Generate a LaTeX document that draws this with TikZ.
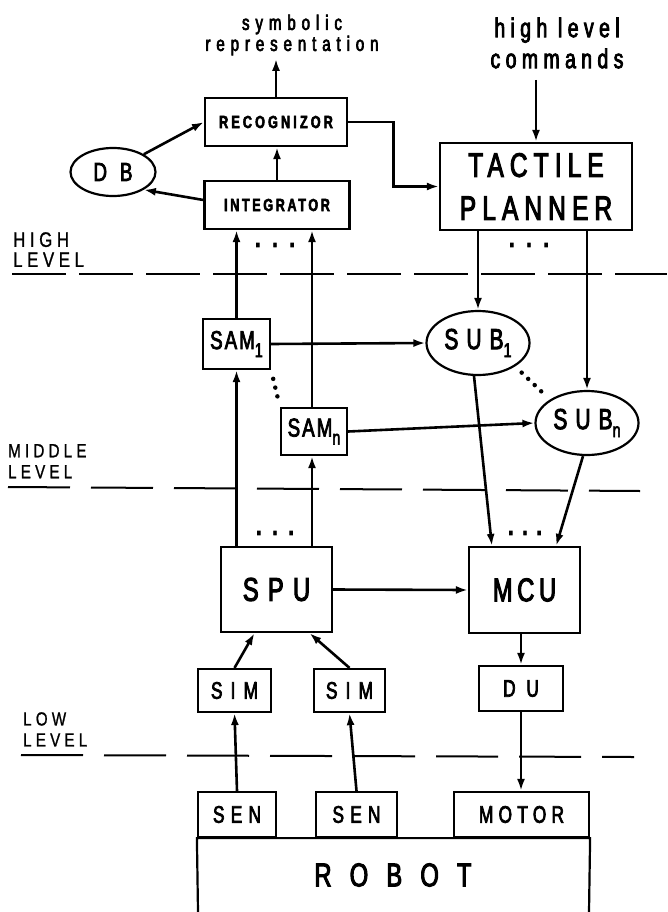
\documentclass[tikz,border=0pt]{standalone}
\usepackage{fontspec}
\setmainfont[FakeStretch=0.72, FakeBold=3]{Liberation Sans}
\newfontfamily\lvlfont[FakeStretch=0.8, FakeBold=1]{Liberation Sans}
\usetikzlibrary{arrows.meta, positioning, calc, shapes.geometric}
% size, line skip, letter spacing
\newcommand{\setfs}[3]{\fontsize{#1}{#2}\selectfont\addfontfeature{LetterSpace=#3}}
\newcommand{\lowsub}[1]{\raisebox{-8pt}{\fontsize{20}{20}\selectfont #1}}
\tikzset{
  box/.style={draw, rectangle, line width=2.2pt, inner sep=0pt},
  oval/.style={draw, ellipse, line width=2.2pt, inner sep=0pt},
  flow/.style={-{Latex[length=12pt,width=8pt]}, line width=2.6pt},
  dotline/.style={line width=4.5pt, line cap=round, dash pattern=on 0pt off 9pt},
  level/.style={line width=2pt, dash pattern=on 62pt off 21pt},
  lvl/.style={align=left, anchor=north west, inner sep=0pt},
  bigdots/.style={inner sep=0pt, font=\bfseries\fontsize{26}{26}\selectfont},
}

\begin{document}
\begin{tikzpicture}[x=1pt,y=-1pt]
\useasboundingbox (0,0) rectangle (667,912);
% top texts
\node[align=center, font=\setfs{21}{21}{28}] (symrep) at (292,35) {symbolic\\representation};
\node[align=center, font=\setfs{27}{31}{20}] (cmd) at (557,43) {high level\\commands};
% high level
\node[box, minimum width=142pt, minimum height=48pt, font=\bfseries\setfs{17.5}{17.5}{18}] (reco) at (276,122) {RECOGNIZOR};
\node[box, minimum width=145pt, minimum height=48pt, font=\bfseries\setfs{17.5}{17.5}{15}] (integ) at (277,205) {INTEGRATOR};
\node[oval, minimum width=85pt, minimum height=48pt, font=\setfs{26}{26}{50}] (db) at (113,172) {DB};
\node[box, minimum width=192pt, minimum height=87pt, align=center, font=\setfs{34}{43}{18}] (tp) at (536,186.5) {TACTILE\\PLANNER};
% middle level
\node[box, minimum width=67pt, minimum height=50pt, font=\setfs{26}{26}{8}] (sam1) at (236.5,344) {SAM\lowsub{1}};
\node[box, minimum width=66pt, minimum height=47pt, font=\setfs{26}{26}{8}] (samn) at (314,431.5) {SAM\lowsub{n}};
\node[oval, minimum width=103pt, minimum height=64pt, font=\setfs{29}{29}{28}] (sub1) at (478,343) {SUB\lowsub{1}};
\node[oval, minimum width=103pt, minimum height=64pt, font=\setfs{29}{29}{28}] (subn) at (587,423) {SUB\lowsub{n}};
% low level
\node[box, minimum width=111pt, minimum height=85pt, font=\setfs{33}{33}{28}] (spu) at (276.5,589.5) {SPU};
\node[box, minimum width=111pt, minimum height=86pt, font=\setfs{33}{33}{14}] (mcu) at (524.5,590) {MCU};
\node[box, minimum width=73pt, minimum height=43pt, font=\setfs{24}{24}{34}] (sim1) at (234.5,690.5) {SIM};
\node[box, minimum width=71pt, minimum height=43pt, font=\setfs{24}{24}{34}] (sim2) at (349.5,690.5) {SIM};
\node[box, minimum width=84pt, minimum height=45pt, font=\setfs{24}{24}{45}] (du) at (521,688.5) {DU};
\node[box, minimum width=78pt, minimum height=45pt, font=\setfs{24}{24}{26}] (sen1) at (237,814.5) {SEN};
\node[box, minimum width=81pt, minimum height=45pt, font=\setfs{24}{24}{26}] (sen2) at (356.5,814.5) {SEN};
\node[box, minimum width=135pt, minimum height=45pt, font=\setfs{24}{24}{22}] (motor) at (521.5,814.5) {MOTOR};
\node[font=\setfs{33}{33}{55}] (robot) at (393,875) {ROBOT};
\draw[line width=2.2pt] (198,912) -- (sen1.south west) -- (motor.south east) -- (589,912);
% level labels
\node[lvl, font=\lvlfont\setfs{21}{20}{22}] (hilvl) at (13,232) {HIGH\\LEVEL};
\node[lvl, font=\lvlfont\setfs{19}{21}{22}] (midlvl) at (8,444) {MIDDLE\\LEVEL};
\node[lvl, font=\lvlfont\setfs{19}{21}{22}] (lowlvl) at (23,712) {LOW\\LEVEL};
\draw[level, dash pattern=on 54pt off 13pt] (12,274) -- (667,274);
\draw[level] (8,487) -- (640,491);
\draw[level] (21,755) -- (634,757);
% dots
\node[bigdots] (idots) at (275,245) {.\hspace{12pt}.\hspace{12pt}.};
\node[bigdots] (tdots) at (529,245) {.\hspace{12pt}.\hspace{12pt}.};
\node[bigdots] (sdots) at (275,533) {.\hspace{11pt}.\hspace{11pt}.};
\node[bigdots] (mdots) at (525,533) {.\hspace{9pt}.\hspace{9pt}.};
\draw[dotline, shorten <=9pt, shorten >=9pt] (sam1.south east) -- (samn.north west);
\draw[dotline, shorten <=9pt, shorten >=10pt] (sub1.south east) -- (subn.north west);
% connectors
\draw[flow] (reco.north) -- (reco.north |- symrep.south);
\draw[flow, shorten <=8pt] (cmd.south -| tp.north) -- (tp.north);
\draw[flow] (db.north east) -- (reco.west);
\draw[flow] ([yshift=5pt]integ.west) -- (db.south east);
\draw[flow] (integ.north) -- (integ.north |- reco.south);
\draw[flow] (reco.east) -| ($(reco.east)!0.5!(tp.west)$) |- (tp.west);
\draw[flow] (sam1.north) -- (sam1.north |- integ.south);
\draw[flow] ([xshift=-2pt]samn.north) -- ([xshift=-2pt]samn.north |- integ.south);
\draw[flow] (tp.south -| sub1.north) -- (sub1.north);
\draw[flow] (tp.south -| subn.north) -- (subn.north);
\draw[flow] (sam1.east) -- (sub1.west);
\draw[flow] (samn.east) -- (subn.west);
\draw[flow] ([xshift=-4pt]sub1.south) -- ([xshift=24pt]mcu.north west);
\draw[flow] ([xshift=-4pt]subn.south) -- ([xshift=-25pt]mcu.north east);
\draw[flow] (spu.north -| sam1.south) -- (sam1.south);
\draw[flow] ([xshift=-2pt]spu.north -| samn.south) -- ([xshift=-2pt]samn.south);
\draw[flow] (spu.east) -- (mcu.west);
\draw[flow] (sim1.north) -- ([xshift=-22pt]spu.south);
\draw[flow] (sim2.north) -- ([xshift=33pt]spu.south);
\draw[flow] (mcu.south -| du.north) -- (du.north);
\draw[flow] (sen1.north) -- (sim1.south);
\draw[flow] (sen2.north) -- (sim2.south);
\draw[flow] (du.south) -- (du.south |- motor.north);
\end{tikzpicture}
\end{document}
